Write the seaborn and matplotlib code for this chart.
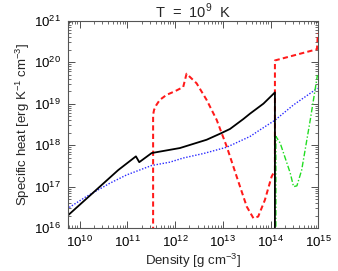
import numpy as np
import pandas as pd
import matplotlib
matplotlib.use("Agg")
import matplotlib.pyplot as plt
import seaborn as sns
from matplotlib.ticker import LogLocator, NullFormatter

# log10 density / log10 specific heat
black_lx = [9.73, 10.81, 11.18, 11.25, 11.51, 12.10, 12.66, 12.95, 13.15, 13.43,
            13.57, 13.85, 14.09, 14.09]
black_ly = [16.28, 17.40, 17.73, 17.59, 17.81, 17.93, 18.13, 18.28, 18.39, 18.63,
            18.76, 19.00, 19.27, 15.5]

blue_lx = [9.73, 10.14, 10.63, 10.98, 11.51, 11.89, 12.17, 12.60, 13.08, 13.57,
           13.78, 14.09, 14.48, 14.98]
blue_ly = [16.46, 16.76, 17.08, 17.28, 17.51, 17.59, 17.69, 17.80, 17.95, 18.21,
           18.37, 18.60, 18.97, 19.37]

red_lx = [11.54, 11.54, 11.56, 11.61, 11.68, 11.82, 12.00, 12.17, 12.24, 12.45,
          12.66, 12.87, 13.08, 13.29, 13.50, 13.64, 13.74, 13.88, 14.02, 14.09,
          14.09, 14.97, 14.99]
red_ly = [15.5, 18.73, 18.85, 18.97, 19.09, 19.21, 19.30, 19.40, 19.72, 19.49,
          19.09, 18.61, 17.97, 17.24, 16.52, 16.24, 16.28, 16.68, 17.24, 17.40,
          20.04, 20.31, 20.70]

green_lx = [14.11, 14.11, 14.20, 14.41, 14.48, 14.55, 14.65, 14.83, 14.98]
green_ly = [15.5, 18.21, 18.05, 17.33, 17.00, 17.02, 17.40, 18.61, 19.69]

sns.set_theme(style="ticks")
plt.rcParams['font.family'] = ['Liberation Sans', 'DejaVu Sans']
plt.rcParams['mathtext.fontset'] = 'custom'
plt.rcParams['mathtext.rm'] = 'Liberation Sans'

fig, ax = plt.subplots(figsize=(3.38, 2.71), dpi=100)
fig.subplots_adjust(left=0.2, right=0.942, top=0.924, bottom=0.158)

def draw(lx, ly, color, ls, lw):
    df = pd.DataFrame({"x": 10.0 ** np.array(lx), "y": 10.0 ** np.array(ly)})
    sns.lineplot(data=df, x="x", y="y", sort=False, estimator=None, color=color,
                 linestyle=ls, linewidth=lw, ax=ax)

draw(blue_lx, blue_ly, "#2a2aff", (0, (1, 1.2)), 1.0)
draw(red_lx, red_ly, "#ff1a1a", (0, (2.6, 1.6)), 1.45)
draw(green_lx, green_ly, "#22dd22", (0, (4, 1.5, 1, 1.5)), 1.0)
draw(black_lx, black_ly, "black", "-", 1.3)

ax.set_xscale("log")
ax.set_yscale("log")
ax.set_xlim(10 ** 9.75, 1e15)
ax.set_ylim(1e16, 1e21)

ax.xaxis.set_major_locator(LogLocator(base=10, numticks=10))
ax.yaxis.set_major_locator(LogLocator(base=10, numticks=10))
ax.xaxis.set_minor_locator(LogLocator(base=10, subs=np.arange(2, 10), numticks=20))
ax.yaxis.set_minor_locator(LogLocator(base=10, subs=np.arange(2, 10), numticks=20))
ax.xaxis.set_minor_formatter(NullFormatter())
ax.yaxis.set_minor_formatter(NullFormatter())

ax.tick_params(which="both", direction="in", top=True, right=True, colors="#333333",
               labelcolor="black", labelsize=9.5, pad=5)
ax.tick_params(which="major", length=5, width=0.6)
ax.tick_params(which="minor", length=2.5, width=0.5)
for s in ax.spines.values():
    s.set_color("#555555")
    s.set_linewidth(0.8)

ax.set_xlabel(r"Density [g cm$^{-3}$]", fontsize=9.5, labelpad=1)
ax.set_ylabel(r"Specific heat [erg K$^{-1}$ cm$^{-3}$]", fontsize=9.5, labelpad=1)
ax.set_title(r"T  =  10$^{9}$  K", fontsize=10.5, pad=2)

fig.savefig("out.png", dpi=100, facecolor="white")
